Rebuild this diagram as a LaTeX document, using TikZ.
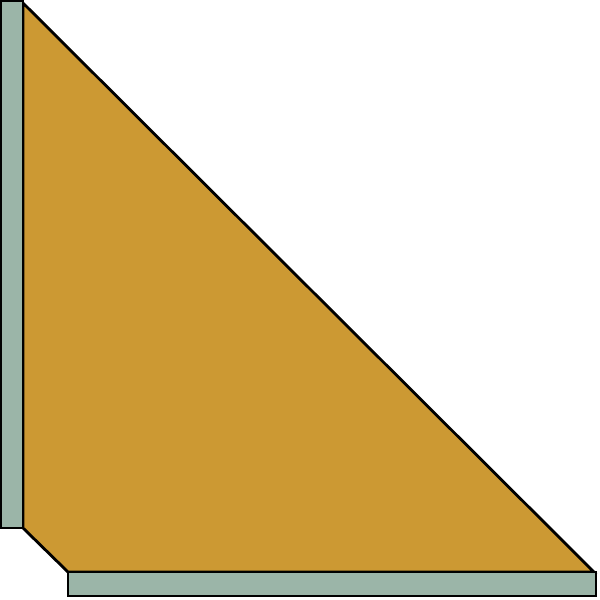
\documentclass[tikz,border=0pt]{standalone}
\usepackage{tikz}
\usepackage{color}
\definecolor{wallgray}{RGB}{155,181,168}
\definecolor{braceGold}{RGB}{204,153,51}

\begin{document}
\begin{tikzpicture}[x=0.02cm,y=-0.02cm,
        bar/.style={draw=black,line width=1.6pt,fill=wallgray},
        plate/.style={draw=black,line width=1.6pt,fill=braceGold,line join=miter}]
        \useasboundingbox (0,0) rectangle (600,600);

        \coordinate (top) at (23,3);
        \coordinate (wallfoot) at (23,528);
        \coordinate (heel) at (68,572);
        \coordinate (toe) at (594,572);

        \draw[plate] (top) -- (wallfoot) -- (heel) -- (toe) -- cycle;
        \draw[bar] (1,1) rectangle (23,528);
        \draw[bar] (heel) rectangle (596,596);
    \end{tikzpicture}
\end{document}
